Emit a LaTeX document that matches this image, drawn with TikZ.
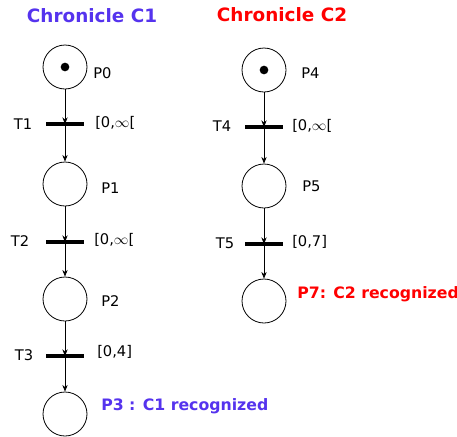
\documentclass[tikz,border=0pt]{standalone}
\usepackage{fontspec}
\setmainfont{DejaVu Sans}
\usetikzlibrary{arrows.meta}
\definecolor{cblue}{RGB}{85,51,238}
\definecolor{cred}{RGB}{255,0,0}
\begin{document}
\begin{tikzpicture}[x=0.75pt,y=-0.75pt,
  place/.style={draw,circle,minimum size=33pt,inner sep=0pt,line width=0.6pt},
  trans/.style={fill=black,minimum width=29pt,minimum height=3pt,inner sep=0pt},
  lbl/.style={font=\fontsize{11pt}{13pt}\selectfont,inner sep=0pt},
  title/.style={font=\bfseries\fontsize{13.8pt}{16pt}\selectfont,inner sep=0pt},
  sub/.style={font=\bfseries\fontsize{11.8pt}{14pt}\selectfont,inner sep=0pt,anchor=west},
  arc/.style={-{Stealth[length=5pt,width=4pt]},line width=0.6pt},
  token/.style={fill=black,circle,inner sep=0pt,minimum size=6.5pt}]
\useasboundingbox (0,0) rectangle (457,436);
% Chronicle C1
\node[title,text=cblue] (t1) at (92,16) {Chronicle C1};
\node[place] (P0) at (65,67) {};
\node[token] (k0) at (P0) {};
\node[lbl,anchor=west] (lP0) at (93,73) {P0};
\node[trans] (T1) at (65,124) {};
\node[lbl] (lT1) at (23,124) {T1};
\node[lbl,anchor=west] (iT1) at (95,123) {[0,$\infty$[};
\node[place] (P1) at (65,184) {};
\node[lbl,anchor=west] (lP1) at (101,188) {P1};
\node[trans] (T2) at (65,242) {};
\node[lbl] (lT2) at (20,241) {T2};
\node[lbl,anchor=west] (iT2) at (94,240) {[0,$\infty$[};
\node[place] (P2) at (65,299) {};
\node[lbl,anchor=west] (lP2) at (101,301) {P2};
\node[trans] (T3) at (65,356) {};
\node[lbl] (lT3) at (24,355) {T3};
\node[lbl,anchor=west] (iT3) at (97,352) {[0,4]};
\node[place] (P3) at (65,414) {};
\node[sub,text=cblue] (lP3) at (101,406) {P3 : C1 recognized};
\draw[arc] (P0) -- (T1.center);
\draw[arc] (T1.center) -- (P1);
\draw[arc] (P1) -- (T2.center);
\draw[arc] (T2.center) -- (P2);
\draw[arc] (P2) -- (T3.center);
\draw[arc] (T3.center) -- (P3);
% Chronicle C2
\node[title,text=cred] (t2) at (282,15) {Chronicle C2};
\node[place] (P4) at (264,70) {};
\node[token] (k4) at (P4) {};
\node[lbl,anchor=west] (lP4) at (301,73) {P4};
\node[trans] (T4) at (264,127) {};
\node[lbl] (lT4) at (222,126) {T4};
\node[lbl,anchor=west] (iT4) at (292,126) {[0,$\infty$[};
\node[place] (P5) at (264,186) {};
\node[lbl,anchor=west] (lP5) at (302,186) {P5};
\node[trans] (T5) at (264,244) {};
\node[lbl] (lT5) at (225,243) {T5};
\node[lbl,anchor=west] (iT5) at (292,242) {[0,7]};
\node[place] (P7) at (264,301) {};
\node[sub,text=cred] (lP7) at (297,294) {P7: C2 recognized};
\draw[arc] (P4) -- (T4.center);
\draw[arc] (T4.center) -- (P5);
\draw[arc] (P5) -- (T5.center);
\draw[arc] (T5.center) -- (P7);
\end{tikzpicture}
\end{document}
